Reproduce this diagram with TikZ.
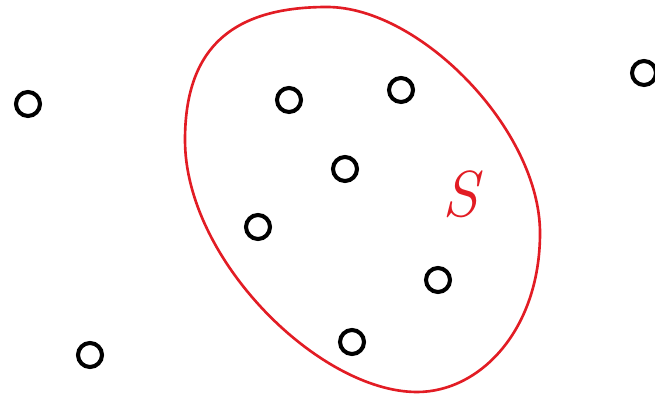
\documentclass[tikz,border=0pt]{standalone}
\usepackage{amsmath, amssymb}
\usepackage{tikz}
\definecolor{setred}{RGB}{226,28,36}

\begin{document}
\begin{tikzpicture}[x=0.02cm, y=-0.02cm,
    ring/.style={circle, draw=black, line width=2.3pt, minimum size=0.48cm, inner sep=0pt}]
                \useasboundingbox (0,0) rectangle (655,394);
                % the set S
                \draw[setred, line width=1.5pt] (327,7) .. controls (420,7) and (540,130) .. (540,233)
                    .. controls (540,330) and (480,392) .. (417,392)
                    .. controls (320,392) and (185,260) .. (185,140)
                    .. controls (185,50) and (230,7) .. cycle;
                \node[setred, inner sep=0pt] (S) at (460,194) {\fontsize{37}{40}\selectfont\itshape S};
                % points
                \foreach \name/\px/\py in {a/28/104, b/289/100, c/401/90, d/345/169, e/258/227,
                    f/438/280, g/352/342, h/90/355, k/644/73}
                    \node[ring] (\name) at (\px,\py) {};
            \end{tikzpicture}
\end{document}
